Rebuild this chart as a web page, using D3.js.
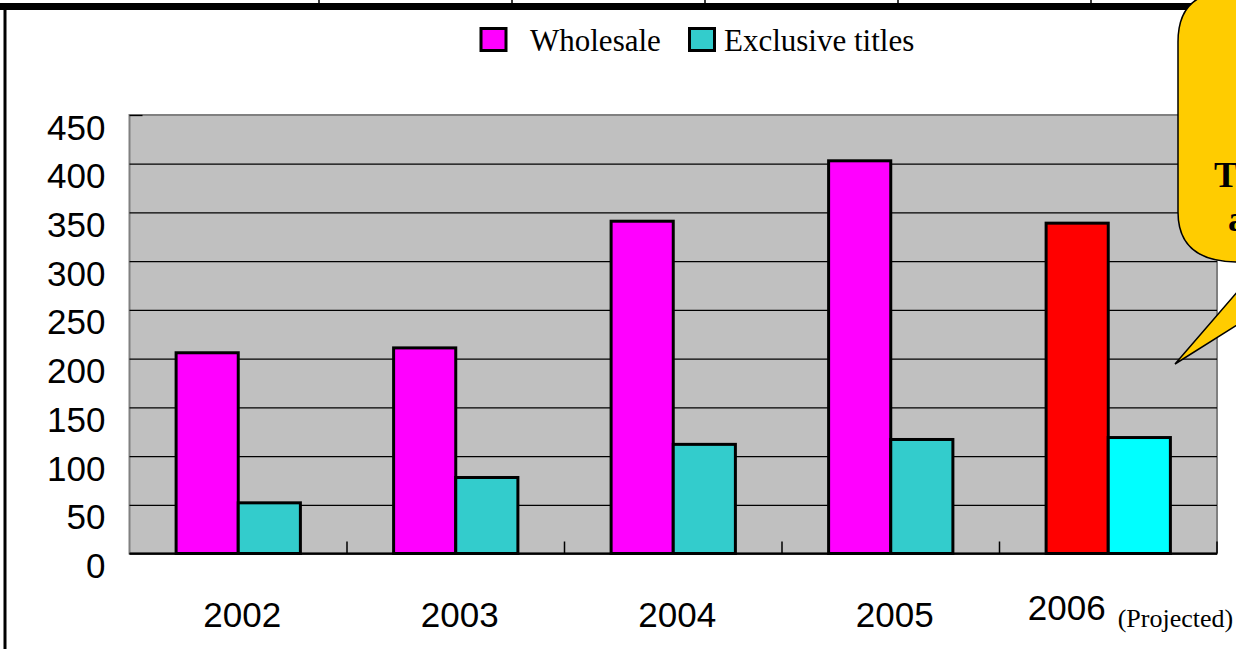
<!DOCTYPE html>
<html>
<head>
<meta charset="utf-8">
<script src="https://cdn.jsdelivr.net/npm/d3@7"></script>
<style>
  html, body { margin: 0; padding: 0; background: #fff; overflow: hidden; }
  svg { display: block; }
</style>
</head>
<body>
<svg id="chart" width="1236" height="649"></svg>
<script>
// ---- data ----
const years = ["2002", "2003", "2004", "2005", "2006"];
const wholesale = [206, 211, 341, 403, 339];
const exclusive = [52, 78, 112, 117, 119];
const seriesNames = ["Wholesale", "Exclusive titles"];
const yTicks = [0, 50, 100, 150, 200, 250, 300, 350, 400, 450];
const projectedYear = "2006";
const projectedNote = "(Projected)";
const calloutLines = ["T", "a"];

// ---- colours ----
const seriesColors = ["#FF00FF", "#33CCCC"];
const projectedColors = ["#FF0000", "#00FFFF"];

(function () {
  "use strict";

  const svg = d3.select("#chart");

  // plot area box
  const plot = { left: 129.5, top: 115, right: 1217, bottom: 553.5 };
  const W = plot.right - plot.left;
  const H = plot.bottom - plot.top;

  // =============================
  // page frame (table border above the chart)
  // =============================
  [319, 512, 705, 898, 1091].forEach((x) => {
    svg.append("line")
      .attr("x1", x).attr("x2", x).attr("y1", 0).attr("y2", 5)
      .attr("stroke", "#000").attr("stroke-width", 1.5);
  });
  svg.append("rect")
    .attr("x", 0).attr("y", 3).attr("width", 1236).attr("height", 7)
    .attr("fill", "#000");
  svg.append("line")
    .attr("x1", 5).attr("x2", 5).attr("y1", 8).attr("y2", 649)
    .attr("stroke", "#000").attr("stroke-width", 3);

  // =============================
  // scales
  // =============================
  const x = d3.scaleBand().domain(years).range([0, W]).paddingInner(0).paddingOuter(0);
  const xInner = d3.scaleBand().domain(seriesNames).range([0, x.bandwidth()])
    .paddingInner(0).paddingOuter(0.75);
  const y = d3.scaleLinear().domain([0, 450]).range([H, 0]);

  const g = svg.append("g").attr("transform", `translate(${plot.left},${plot.top})`);

  // plot background
  g.append("rect")
    .attr("width", W).attr("height", H)
    .attr("fill", "#C0C0C0")
    .attr("stroke", "#808080").attr("stroke-width", 2);

  // y axis + gridlines
  const yAxis = g.append("g")
    .call(d3.axisLeft(y).tickValues(yTicks).tickSizeInner(-W).tickSizeOuter(0).tickPadding(24));
  yAxis.select(".domain").remove();
  yAxis.selectAll(".tick line")
    .attr("stroke", "#000").attr("stroke-width", 1.3);
  // top value: only a short tick, the frame stays grey
  yAxis.selectAll(".tick line").filter((d) => d === 450).attr("x2", 13);
  yAxis.selectAll(".tick text")
    .attr("font-family", "'Liberation Sans', Arial, sans-serif")
    .attr("font-size", 35)
    .attr("fill", "#000")
    .attr("dy", "24px");

  // bars
  const rows = years.map((yr, i) => ({ year: yr, values: [wholesale[i], exclusive[i]] }));
  const groups = g.selectAll(".grp").data(rows).join("g")
    .attr("class", "grp")
    .attr("transform", (d) => `translate(${x(d.year)},0)`);
  groups.selectAll("rect")
    .data((d) => d.values.map((v, k) => ({ year: d.year, key: seriesNames[k], k: k, v: v })))
    .join("rect")
    .attr("x", (d) => xInner(d.key))
    .attr("y", (d) => y(d.v))
    .attr("width", xInner.bandwidth())
    .attr("height", (d) => H - y(d.v))
    .attr("fill", (d) => (d.year === projectedYear ? projectedColors[d.k] : seriesColors[d.k]))
    .attr("stroke", "#000")
    .attr("stroke-width", 3);

  // x axis line + category ticks (pointing up inside the plot)
  g.append("line")
    .attr("x1", 0).attr("x2", W).attr("y1", H).attr("y2", H)
    .attr("stroke", "#000").attr("stroke-width", 2);
  years.forEach((yr) => {
    const bx = x(yr) + x.bandwidth();
    g.append("line")
      .attr("x1", bx).attr("x2", bx).attr("y1", H).attr("y2", H - 12)
      .attr("stroke", "#000").attr("stroke-width", 1.5);
  });

  // x labels
  const xAxis = g.append("g")
    .attr("transform", `translate(0,${H})`)
    .call(d3.axisBottom(x).tickSize(0));
  xAxis.select(".domain").remove();
  xAxis.selectAll(".tick text")
    .attr("font-family", "'Liberation Sans', Arial, sans-serif")
    .attr("font-size", 35)
    .attr("fill", "#000")
    .attr("y", 73.5)
    .attr("dy", 0)
    .attr("x", 4);

  const last = xAxis.selectAll(".tick text").filter((d) => d === projectedYear);
  last.attr("text-anchor", "start").attr("x", -80.5).attr("y", 66.5);
  last.append("tspan")
    .attr("dx", 12)
    .attr("dy", 7)
    .attr("font-family", "'Liberation Serif', 'Times New Roman', serif")
    .attr("font-size", 26)
    .text(projectedNote);

  // =============================
  // legend
  // =============================
  const legendItems = [
    { name: seriesNames[0], color: seriesColors[0], box: 481, text: 530 },
    { name: seriesNames[1], color: seriesColors[1], box: 689.5, text: 724 },
  ];
  legendItems.forEach((it) => {
    svg.append("rect")
      .attr("x", it.box).attr("y", 28.5).attr("width", 25).attr("height", 22)
      .attr("fill", it.color).attr("stroke", "#000").attr("stroke-width", 3);
    svg.append("text")
      .attr("x", it.text).attr("y", 51)
      .attr("font-family", "'Liberation Serif', 'Times New Roman', serif")
      .attr("font-size", 31)
      .attr("fill", "#000")
      .text(it.name);
  });

  // =============================
  // callout bubble (cut off at the right edge)
  // =============================
  const bx0 = 1178, by0 = -8, bx1 = 1420, by1 = 262, r = 50;
  const bubble = d3.path();
  bubble.moveTo(bx0, by0 + r);
  bubble.lineTo(bx0, by1 - r);
  bubble.quadraticCurveTo(bx0, by1, bx0 + r + 10, by1);
  bubble.lineTo(1263, by1);
  bubble.lineTo(1175, 364);
  bubble.lineTo(1337, by1);
  bubble.lineTo(bx1, by1);
  bubble.lineTo(bx1, by0);
  bubble.lineTo(bx0 + r, by0);
  bubble.quadraticCurveTo(bx0, by0, bx0, by0 + r);
  bubble.closePath();
  svg.append("path")
    .attr("d", bubble.toString())
    .attr("fill", "#FFCC00")
    .attr("stroke", "#000")
    .attr("stroke-width", 1.5);

  svg.append("text")
    .attr("x", 1214).attr("y", 187)
    .attr("font-family", "'Liberation Serif', 'Times New Roman', serif")
    .attr("font-size", 36).attr("font-weight", "bold")
    .text(calloutLines[0]);
  svg.append("text")
    .attr("x", 1228).attr("y", 231)
    .attr("font-family", "'Liberation Serif', 'Times New Roman', serif")
    .attr("font-size", 36).attr("font-weight", "bold")
    .text(calloutLines[1]);
})();
</script>
</body>
</html>
